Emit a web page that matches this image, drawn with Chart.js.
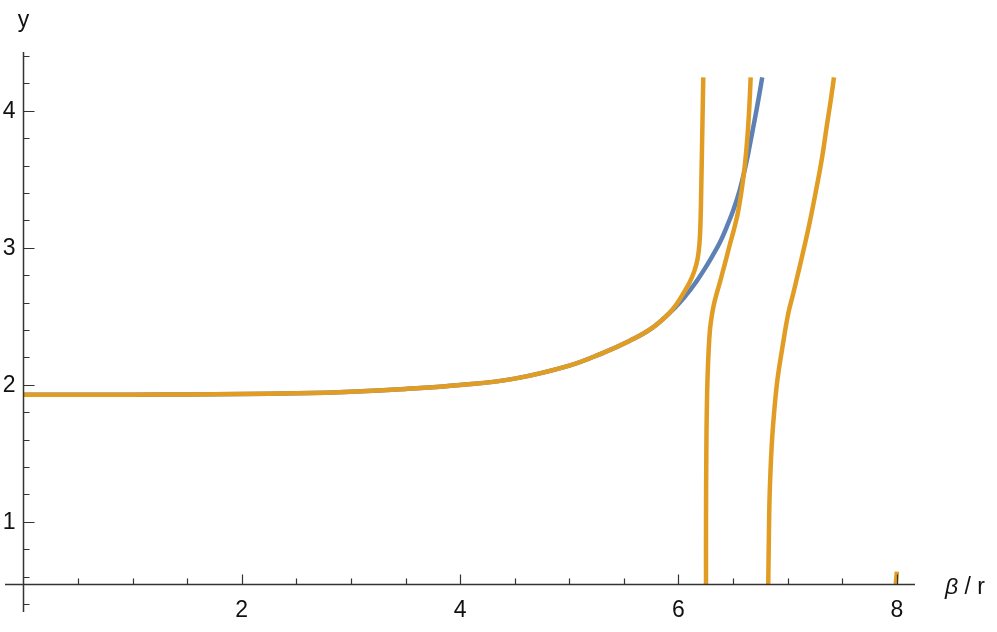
<!DOCTYPE html>
<html>
<head>
<meta charset="utf-8">
<script src="https://cdn.jsdelivr.net/npm/chart.js@4.4.0/dist/chart.umd.min.js"></script>
<style>
  html, body { margin: 0; padding: 0; background: #fff; }
  #wrap { width: 997px; height: 632px; position: relative; }
</style>
</head>
<body>
<div id="wrap"><canvas id="plot"></canvas></div>
<script>
// curve samples, [x, y]
const blueCurve = [
  [0, 1.927], [0.5, 1.927], [1, 1.928], [1.5, 1.929], [2, 1.932], [2.5, 1.938],
  [3, 1.95], [3.5, 1.97], [4, 1.998], [4.5, 2.045], [5, 2.14], [5.3, 2.23],
  [5.55, 2.32], [5.75, 2.41], [5.938, 2.54], [6.075, 2.66], [6.16, 2.75],
  [6.243, 2.85], [6.31, 2.94], [6.38, 3.04], [6.44, 3.15], [6.5, 3.27],
  [6.56, 3.42], [6.618, 3.61], [6.67, 3.82], [6.72, 4.03], [6.767, 4.245]
];
const orangeBranch1 = [
  [0, 1.927], [0.5, 1.927], [1, 1.928], [1.5, 1.929], [2, 1.932], [2.5, 1.938],
  [3, 1.95], [3.5, 1.97], [4, 1.998], [4.5, 2.045], [5, 2.14], [5.3, 2.23],
  [5.55, 2.32], [5.75, 2.41], [5.9, 2.51], [5.983, 2.59], [6.044, 2.667],
  [6.10, 2.745], [6.145, 2.83], [6.175, 2.92], [6.192, 3.03], [6.202, 3.2],
  [6.21, 3.5], [6.218, 3.85], [6.227, 4.245]
];
const orangeBranch2 = [
  [6.252, 0.545], [6.252, 1.0], [6.255, 1.5], [6.259, 1.8], [6.266, 2.05],
  [6.276, 2.25], [6.288, 2.4], [6.304, 2.5], [6.325, 2.59], [6.35, 2.667],
  [6.38, 2.75], [6.41, 2.84], [6.44, 2.93], [6.472, 3.03], [6.51, 3.14],
  [6.545, 3.26], [6.58, 3.43], [6.61, 3.62], [6.635, 3.85], [6.65, 4.05],
  [6.661, 4.245]
];
const orangeBranch3 = [
  [6.822, 0.545], [6.828, 0.9], [6.835, 1.2], [6.853, 1.545], [6.875, 1.79],
  [6.905, 2.03], [6.951, 2.27], [7.005, 2.52], [7.051, 2.667], [7.1, 2.83],
  [7.15, 3.0], [7.2, 3.18], [7.255, 3.4], [7.311, 3.64], [7.36, 3.9],
  [7.395, 4.08], [7.424, 4.245]
];
const orangeBranch4 = [[7.99, 0.545], [8.0, 0.636]];

const xMajorTicks = [2, 4, 6, 8];
const xMinorTicks = [0.5, 1, 1.5, 2.5, 3, 3.5, 4.5, 5, 5.5, 6.5, 7, 7.5];
const yMajorTicks = [1, 2, 3, 4];
const yMinorTicks = [0.4, 0.6, 0.8, 1.2, 1.4, 1.6, 1.8, 2.2, 2.4, 2.6, 2.8,
                     3.2, 3.4, 3.6, 3.8, 4.2, 4.4];
const axisCross = [0, 0.545];

const orange = '#E19C24';
const blue = '#5E81B5';
const labelFont = '23px "Liberation Sans", Arial, sans-serif';

function toPoints(arr) {
  return arr.map(p => ({ x: p[0], y: p[1] }));
}

function curve(data, color, order) {
  return {
    data: toPoints(data),
    borderColor: color,
    borderWidth: 4.5,
    borderCapStyle: 'butt',
    borderJoinStyle: 'round',
    showLine: true,
    pointRadius: 0,
    fill: false,
    tension: 0.4,
    order: order
  };
}

const mathAxes = {
  id: 'mathAxes',
  afterDatasetsDraw(chart) {
    const ctx = chart.ctx;
    const xs = chart.scales.x;
    const ys = chart.scales.y;
    const ox = Math.round(xs.getPixelForValue(axisCross[0])) + 0.5;
    const oy = Math.round(ys.getPixelForValue(axisCross[1])) + 0.5;

    ctx.save();
    ctx.strokeStyle = '#333';
    ctx.lineWidth = 1.5;
    ctx.beginPath();
    ctx.moveTo(xs.left, oy); ctx.lineTo(xs.right, oy);
    ctx.moveTo(ox, ys.top); ctx.lineTo(ox, ys.bottom);
    ctx.stroke();

    ctx.lineWidth = 1.2;
    ctx.beginPath();
    xMajorTicks.forEach(v => {
      const px = Math.round(xs.getPixelForValue(v)) + 0.5;
      ctx.moveTo(px, oy); ctx.lineTo(px, oy - 10);
    });
    xMinorTicks.forEach(v => {
      const px = Math.round(xs.getPixelForValue(v)) + 0.5;
      ctx.moveTo(px, oy); ctx.lineTo(px, oy - 6);
    });
    yMajorTicks.forEach(v => {
      const py = Math.round(ys.getPixelForValue(v)) + 0.5;
      ctx.moveTo(ox, py); ctx.lineTo(ox + 11, py);
    });
    yMinorTicks.forEach(v => {
      const py = Math.round(ys.getPixelForValue(v)) + 0.5;
      ctx.moveTo(ox, py); ctx.lineTo(ox + 6, py);
    });
    ctx.stroke();

    ctx.fillStyle = '#111';
    ctx.font = labelFont;
    ctx.textAlign = 'center';
    ctx.textBaseline = 'top';
    xMajorTicks.forEach(v => {
      ctx.fillText(String(v), xs.getPixelForValue(v), oy + 15);
    });
    ctx.textAlign = 'right';
    ctx.textBaseline = 'middle';
    yMajorTicks.forEach(v => {
      ctx.fillText(String(v), ox - 8, ys.getPixelForValue(v) + 1);
    });

    // axis names
    ctx.textAlign = 'center';
    ctx.textBaseline = 'alphabetic';
    ctx.fillText('y', ox, 27);
    ctx.textAlign = 'left';
    ctx.font = 'italic ' + labelFont;
    ctx.fillText('\u03B2', 945, oy + 9);
    const bw = ctx.measureText('\u03B2').width;
    ctx.font = labelFont;
    ctx.fillText(' / r', 945 + bw, oy + 9);
    ctx.restore();
  }
};

new Chart(document.getElementById('plot'), {
  type: 'scatter',
  data: {
    datasets: [
      curve(orangeBranch1, orange, 1),
      curve(orangeBranch2, orange, 1),
      curve(orangeBranch3, orange, 1),
      curve(orangeBranch4, orange, 1),
      curve(blueCurve, blue, 2)
    ]
  },
  options: {
    responsive: true,
    maintainAspectRatio: false,
    animation: false,
    layout: { padding: { left: 5, right: 82, top: 52, bottom: 20 } },
    scales: {
      x: { type: 'linear', min: -0.168, max: 8.166, display: false },
      y: { type: 'linear', min: 0.341, max: 4.43, display: false }
    },
    plugins: {
      legend: { display: false },
      tooltip: { enabled: false }
    }
  },
  plugins: [mathAxes]
});
</script>
</body>
</html>
